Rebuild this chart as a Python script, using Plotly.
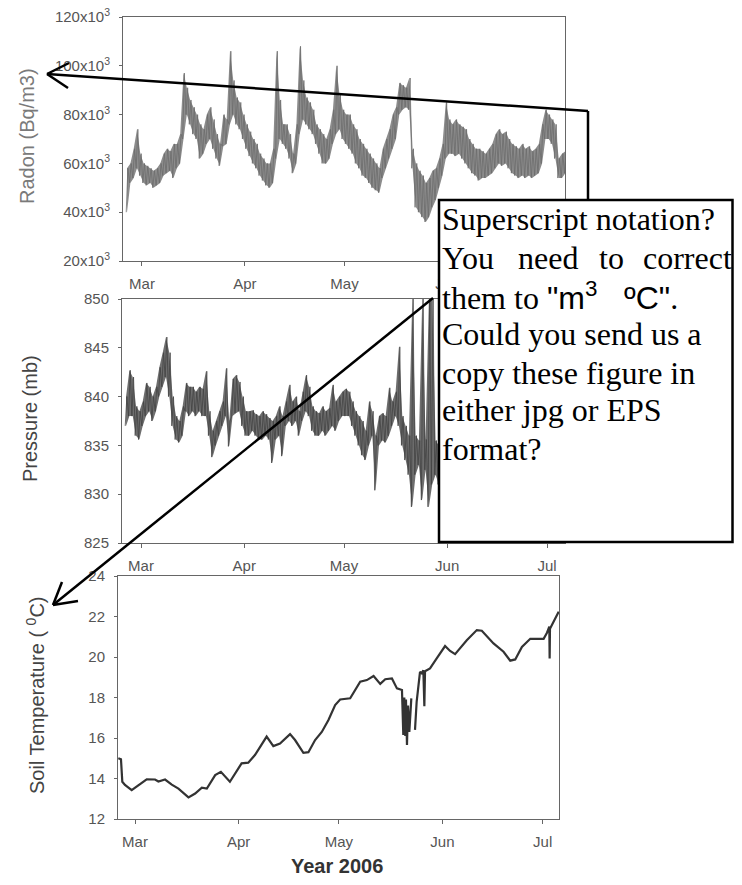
import pandas as pd
import plotly.graph_objects as go

START = pd.Timestamp("2006-03-01")

# ---------------- data ----------------
# Radon (x10^3 Bq/m3): daily lower / upper envelope, first day = Feb 24 (offset -5 from Mar 1)
radon_day0 = -5
radon_lo = [40, 52, 54, 58, 55, 52, 51, 52, 50, 51, 52, 55, 56, 57, 54, 58, 60, 70,
            80, 76, 72, 70, 62, 64, 68, 70, 66, 62, 59, 67, 68, 76, 80, 76, 74, 70,
            66, 63, 60, 58, 55, 53, 51, 50, 52, 62, 70, 68, 66, 62, 56, 60, 72, 78,
            76, 74, 72, 68, 64, 60, 60, 62, 68, 72, 74, 70, 68, 66, 64, 60, 58, 55,
            54, 52, 50, 49, 48, 54, 58, 62, 66, 70, 80, 82, 83, 82, 58, 42, 40, 38,
            36, 38, 42, 45, 50, 55, 62, 64, 64, 63, 64, 62, 60, 58, 56, 55, 53, 54,
            54, 55, 56, 58, 60, 59, 60, 58, 56, 55, 54, 55, 54, 55, 54, 55, 56, 60,
            70, 70, 68, 62, 54, 54, 56]
radon_hi = [58, 60, 66, 74, 64, 60, 59, 58, 57, 58, 60, 64, 66, 65, 68, 68, 72, 97,
            91, 86, 83, 80, 76, 74, 80, 83, 78, 72, 68, 80, 78, 106, 94, 87, 85, 80,
            76, 73, 70, 68, 64, 62, 60, 60, 66, 106, 86, 76, 76, 72, 64, 76, 108, 94,
            87, 85, 82, 76, 74, 72, 70, 74, 82, 100, 88, 82, 80, 80, 76, 74, 70, 68,
            66, 64, 62, 60, 58, 66, 70, 74, 80, 83, 93, 92, 91, 95, 66, 60, 57, 55,
            52, 54, 57, 58, 62, 68, 85, 78, 76, 78, 76, 75, 74, 70, 68, 66, 66, 65,
            64, 66, 68, 72, 74, 72, 73, 70, 68, 67, 66, 68, 66, 67, 65, 66, 68, 76,
            82, 80, 78, 76, 62, 64, 65]

# Pressure (mb): daily lower / upper envelope, first day = Feb 24
press_day0 = -5
press_lo = [837, 838, 838, 836, 835.6, 837, 838, 838.5, 837.5, 838.5, 840, 841, 842,
            840, 837, 835.6, 835.3, 836, 838.5, 838, 838.5, 838, 838.5, 838, 838,
            836, 833.8, 835, 836, 837, 838, 834.9, 838, 838.3, 838.5, 837, 836, 836,
            836.5, 836, 835.6, 835.6, 836, 835.6, 833.2, 835.6, 836, 833.9, 837,
            837.5, 837, 837.5, 836, 837.5, 838.5, 838, 836.5, 836, 836, 836.5, 836,
            836.5, 837, 836.5, 837.5, 838, 838, 838, 837, 836, 835, 834, 833.5, 835,
            836, 830.4, 835, 835.5, 835.3, 836, 837, 838, 837, 835, 833.5, 832,
            828.7, 832, 833, 829.4, 832.5, 828.7, 831, 832, 831, 832]
press_hi = [840, 842.7, 842, 839, 838.5, 839.5, 841.4, 841, 840, 841, 843, 844.5,
            846.1, 844.5, 840, 838, 837.5, 839, 841.4, 841, 841, 840.5, 841, 840.8,
            842.6, 838.5, 836.5, 837.5, 838.5, 839.5, 842.9, 837.5, 841.8, 842.2,
            841.5, 840, 838.5, 838.5, 838.6, 838.2, 838, 838.5, 838.2, 837.8, 837.5,
            838, 839, 838, 839.5, 841.2, 839.5, 840, 838.5, 840.5, 842.2, 841, 839,
            838.5, 838.3, 839, 838.5, 838.8, 841.2, 839.5, 840, 840.5, 840.8, 840.5,
            839.5, 838.5, 838, 837.5, 836.5, 839.5, 838.5, 836, 838, 838.3, 838,
            840.9, 839.5, 840.5, 845.1, 838, 837, 836, 850, 836, 835.5, 850, 835.6,
            850, 850, 835.5, 835, 836]

# Soil temperature (deg C): day offset from Mar 1 and value (None = gap)
soil_days = [-5.0, -4.2, -3.8, -3.0, -1.0, 1.0, 3.5, 6.0, 7.0, 9.0, 11.0, 13.0, 16.0,
             18.0, 20.0, 21.5, 24.0, 25.7, 28.4, 31.9, 33.9, 35.9, 39.4, 41.4, 43.4,
             46.4, 47.9, 50.4, 51.9, 53.9, 55.9, 57.9, 59.9, 61.4, 64.4, 67.4, 69.4,
             71.4, 73.4, 74.9, 76.9, 78.4, 79.9, 80.3, 80.6, 80.9, 81.1, 81.4, 81.7,
             82.1, 82.7, None, 83.8, 84.3, 85.3, 85.8, 86.3, 86.6, 86.8, 88.3, 90.3,
             92.8, 94.3, 95.8, 99.3, 102.3, 103.8, 107.3, 110.3, 112.3, 113.8, 115.8,
             118.3, 122.3, 123.3, 124.0, 124.1, 124.2, 126.8]
soil_vals = [15.0, 14.95, 13.84, 13.68, 13.43, 13.68, 13.96, 13.95, 13.85, 13.95, 13.7,
             13.5, 13.07, 13.26, 13.55, 13.5, 14.17, 14.33, 13.84, 14.75, 14.78, 15.16,
             16.07, 15.6, 15.73, 16.19, 15.9, 15.27, 15.3, 15.9, 16.3, 16.89, 17.63,
             17.9, 17.96, 18.78, 18.86, 19.06, 18.67, 18.9, 18.94, 18.45, 18.37, 16.15,
             18.0, 16.1, 17.9, 15.65, 17.6, 16.3, 17.96, None, 16.4, 17.8, 19.27, 19.2,
             19.35, 17.57, 19.3, 19.44, 19.93, 20.54, 20.3, 20.14, 20.83, 21.33, 21.3,
             20.67, 20.26, 19.82, 19.88, 20.5, 20.9, 20.9, 21.2, 21.5, 19.93, 21.4,
             22.24]

month_ticks = ["2006-03-01", "2006-04-01", "2006-05-01", "2006-06-01", "2006-07-01"]
month_labels = ["Mar", "Apr", "May", "Jun", "Jul"]
radon_ticks = [20, 40, 60, 80, 100, 120]
radon_ticklabels = [f"{v}x10<sup>3</sup>" for v in radon_ticks]
press_ticks = [825, 830, 835, 840, 845, 850]
soil_ticks = [12, 14, 16, 18, 20, 22, 24]


def day_to_date(d):
    return None if d is None else START + pd.Timedelta(days=d)


def envelope(day0, lo, hi):
    xs, ys = [], []
    for i, (a, b) in enumerate(zip(lo, hi)):
        d = day0 + i
        xs += [day_to_date(d + 0.25), day_to_date(d + 0.75)]
        ys += [a, b]
    return xs, ys


def band(day0, lo, hi):
    days = [day_to_date(day0 + i + 0.5) for i in range(len(lo))]
    return days + days[::-1], list(lo) + list(hi)[::-1]


rx, ry = envelope(radon_day0, radon_lo, radon_hi)
rbx, rby = band(radon_day0, radon_lo, radon_hi)
px_, py_ = envelope(press_day0, press_lo, press_hi)
pbx, pby = band(press_day0, press_lo, press_hi)
sx = [day_to_date(d) for d in soil_days]

# The page body adds an 8 px margin on every side, so the figure is drawn
# 16 px smaller (page stays 742x885, no scrollbars) and every screen-pixel
# position is shifted by the 8 px offset.
OFF = 8
W, H = 742 - 2 * OFF, 885 - 2 * OFF


def fx(p):
    return (p - OFF) / W


def fy(p):
    return 1 - (p - OFF) / H


fig = go.Figure()
fig.add_trace(go.Scatter(x=rbx, y=rby, mode="lines", xaxis="x", yaxis="y", fill="toself",
                         fillcolor="#8c8c8c", line=dict(width=0)))
fig.add_trace(go.Scatter(x=rx, y=ry, mode="lines", xaxis="x", yaxis="y",
                         line=dict(color="#6c6c6c", width=0.8)))
fig.add_trace(go.Scatter(x=pbx, y=pby, mode="lines", xaxis="x2", yaxis="y2", fill="toself",
                         fillcolor="#6e6e6e", line=dict(width=0)))
fig.add_trace(go.Scatter(x=px_, y=py_, mode="lines", xaxis="x2", yaxis="y2",
                         line=dict(color="#434343", width=0.8)))
fig.add_trace(go.Scatter(x=sx, y=soil_vals, mode="lines", xaxis="x3", yaxis="y3",
                         connectgaps=False, line=dict(color="#333333", width=2.2)))

tickfont = dict(family="Liberation Sans, Arial, sans-serif", size=15, color="#555")
common_x = dict(type="date", tickvals=month_ticks, ticktext=month_labels, ticks="outside",
                ticklen=4, tickcolor="#666", showline=True, mirror=True, linecolor="#666",
                linewidth=1, showgrid=False, zeroline=False, tickfont=tickfont,
                ticklabelstandoff=5, automargin=False, ticklabeloverflow="allow")
common_y = dict(ticks="outside", ticklen=3, tickcolor="#666", showline=True, mirror=True,
                linecolor="#666", linewidth=1, showgrid=False, zeroline=False,
                tickfont=tickfont, ticklabelstandoff=6, automargin=False,
                ticklabeloverflow="allow")

r12 = [day_to_date(-5.72), day_to_date(127.4)]
r3 = [day_to_date(-5.09), day_to_date(126.9)]

fig.update_layout(
    width=W, height=H, margin=dict(l=0, r=0, t=0, b=0, autoexpand=False),
    paper_bgcolor="white", plot_bgcolor="white", showlegend=False,
    xaxis=dict(common_x, domain=[fx(123), fx(565)], anchor="y", range=r12),
    yaxis=dict(common_y, domain=[fy(261), fy(17)], anchor="x", range=[20, 120],
               tickvals=radon_ticks, ticktext=radon_ticklabels),
    xaxis2=dict(common_x, domain=[fx(122), fx(565)], anchor="y2", range=r12),
    yaxis2=dict(common_y, domain=[fy(543), fy(299)], anchor="x2", range=[825, 850],
                tickvals=press_ticks),
    xaxis3=dict(common_x, domain=[fx(118), fx(559)], anchor="y3", range=r3),
    yaxis3=dict(common_y, domain=[fy(819), fy(576)], anchor="x3", range=[12, 24],
                tickvals=soil_ticks),
)

sans = "Liberation Sans, Arial, sans-serif"
serif = "Liberation Serif, Times New Roman, serif"
ann = []
ann.append(dict(text="Radon (Bq/m3)", x=fx(27), y=fy(136), textangle=-90,
                font=dict(family=sans, size=20, color="#7a7a7a")))
ann.append(dict(text="Pressure (mb)", x=fx(30), y=fy(419), textangle=-90,
                font=dict(family=sans, size=20, color="#444")))
ann.append(dict(text="Soil Temperature ( <sup>0</sup>C)", x=fx(35), y=fy(695), textangle=-90,
                font=dict(family=sans, size=20, color="#444")))
ann.append(dict(text="<b>Year 2006</b>", x=fx(337), y=fy(866),
                font=dict(family=sans, size=20, color="#333")))
for a in ann:
    a.update(xref="paper", yref="paper", showarrow=False, xanchor="center", yanchor="middle")

note_font = dict(family=serif, size=32, color="black")
note_lines = [
    ("Superscript notation?", 219),
    ('them to <span style="font-family:Liberation Sans, Arial">"m<sup>3</sup>&nbsp;&nbsp;&nbsp;ºC"</span>.', 296),
    ("Could you send us a", 334),
    ("copy these figure in", 372.5),
    ("either jpg or EPS", 410),
    ("format?", 448.5),
]
for txt, yy in note_lines:
    ann.append(dict(text=txt, x=fx(440), y=fy(yy), xref="paper", yref="paper",
                    showarrow=False, xanchor="left", yanchor="middle", font=note_font))
for word, xx, anchor in [("You", 440, "left"), ("need", 516, "left"),
                         ("to", 597, "left"), ("correct", 734, "right")]:
    ann.append(dict(text=word, x=fx(xx), y=fy(257.5), xref="paper", yref="paper",
                    showarrow=False, xanchor=anchor, yanchor="middle", font=note_font))
fig.update_layout(annotations=ann)

shapes = []
shapes.append(dict(type="rect", x0=fx(439), x1=fx(732.5), y0=fy(542), y1=fy(200),
                   fillcolor="white", line=dict(color="black", width=2.5)))
for (x0, y0, x1, y1) in [(588, 111, 47, 74), (588, 111, 588, 200), (47, 74, 69, 63),
                         (47, 74, 68, 88), (433, 298, 53, 605), (53, 605, 62, 582),
                         (53, 605, 78, 601)]:
    shapes.append(dict(type="line", x0=fx(x0), y0=fy(y0), x1=fx(x1), y1=fy(y1),
                       line=dict(color="black", width=2.5)))
for s in shapes:
    s.update(xref="paper", yref="paper", layer="above")
fig.update_layout(shapes=shapes)

fig.write_html("out.html")
